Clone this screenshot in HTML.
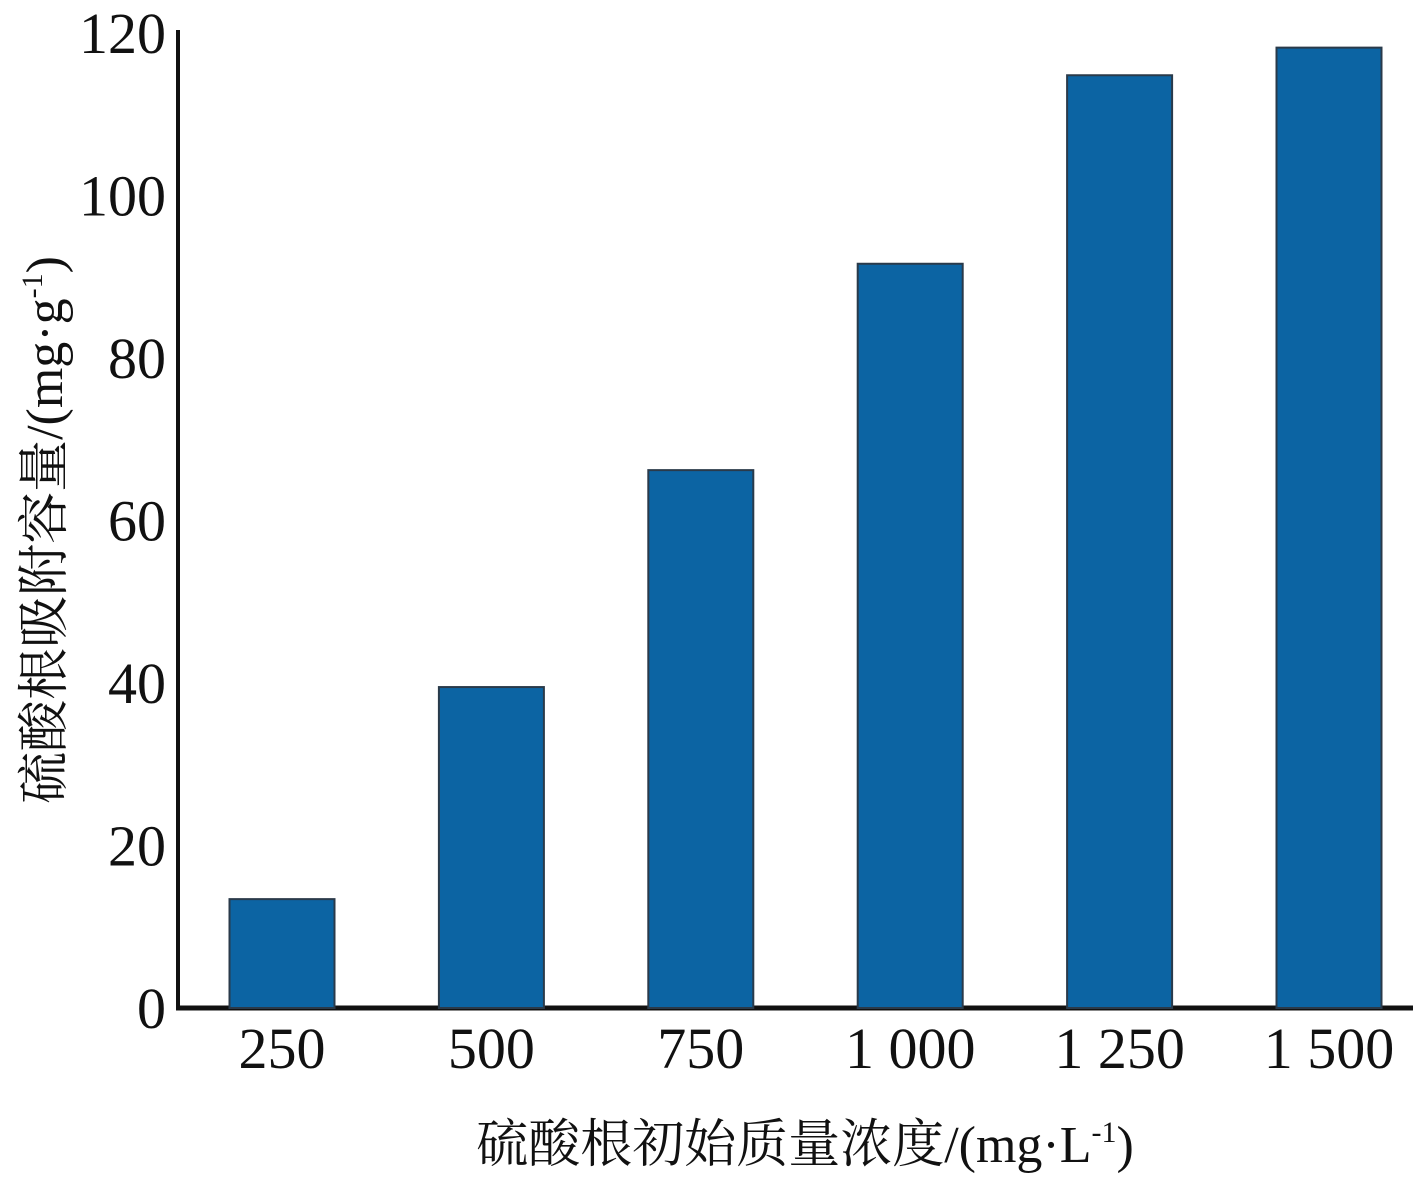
<!DOCTYPE html>
<html><head><meta charset="utf-8"><style>
body{margin:0;background:#fff}
svg text{font-family:"Liberation Serif","Noto Serif CJK SC",serif;fill:#111}
</style></head><body>
<svg width="1417" height="1181" id="c">
<line x1="178" y1="30" x2="178" y2="1010" stroke="#111" stroke-width="4"/>
<line x1="176" y1="1008" x2="1413" y2="1008" stroke="#111" stroke-width="5"/>
<g id="bars"></g><g id="yt"></g><g id="xt"></g>
<text x="805" y="1162" font-size="52" text-anchor="middle">硫酸根初始质量浓度/(mg·L<tspan font-size="30" dy="-20">-1</tspan><tspan dy="20">)</tspan></text>
<text transform="translate(62,530) rotate(-90)" font-size="52" text-anchor="middle">硫酸根吸附容量/(mg·g<tspan font-size="30" dy="-20">-1</tspan><tspan dy="20">)</tspan></text>
</svg>
<script>
const categories=["250","500","750","1 000","1 250","1 500"];
const values=[13.4,39.5,66.2,91.6,114.8,118.2];
const yTicks=[0,20,40,60,80,100,120];
const ns="http://www.w3.org/2000/svg";
const y=v=>1008-v*(975/120);
const xc=i=>282+i*209.4;
const bw=105;
const bars=document.getElementById('bars');
values.forEach((v,i)=>{
const r=document.createElementNS(ns,'rect');
r.setAttribute('x',xc(i)-bw/2);r.setAttribute('y',y(v));
r.setAttribute('width',bw);r.setAttribute('height',y(0)-y(v));
r.setAttribute('fill','#0c64a3');r.setAttribute('stroke','#2a3a4a');r.setAttribute('stroke-width','2');


bars.appendChild(r);
const t=document.createElementNS(ns,'text');
t.setAttribute('x',xc(i));t.setAttribute('y',1068);t.setAttribute('font-size','58');t.setAttribute('text-anchor','middle');
t.textContent=categories[i];


document.getElementById('xt').appendChild(t);
});
yTicks.forEach(v=>{
const t=document.createElementNS(ns,'text');
t.setAttribute('x',166);t.setAttribute('y',y(v)+20);t.setAttribute('font-size','58');t.setAttribute('text-anchor','end');
t.textContent=v;


document.getElementById('yt').appendChild(t);
});
</script>
</body></html>
